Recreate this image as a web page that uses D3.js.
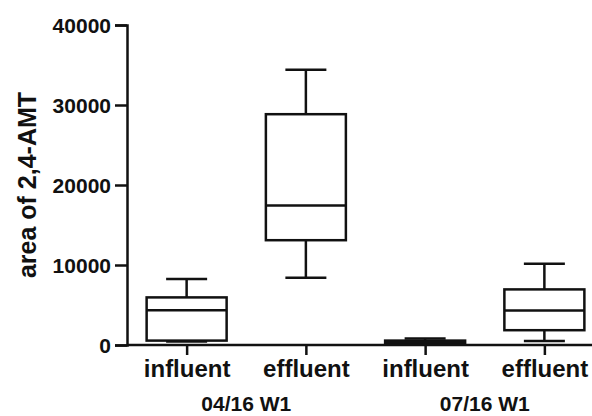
<!DOCTYPE html>
<html>
<head>
<meta charset="utf-8">
<script src="https://cdn.jsdelivr.net/npm/d3@7"></script>
<style>
  body { margin: 0; background: #fff; }
  text { font-family: "Liberation Sans", Arial, sans-serif; font-weight: bold; fill: #111; }
</style>
</head>
<body>
<div id="chart"></div>
<script>
// box data
let boxIds = ['in0416', 'eff0416', 'in0716', 'eff0716'];
let boxNames = ['influent', 'effluent', 'influent', 'effluent'];
let whiskerMin = [450, 8400, 200, 500];
let q1 = [550, 13100, 250, 1850];
let median = [4350, 17450, 400, 4300];
let q3 = [5950, 28850, 550, 6950];
let whiskerMax = [8250, 34400, 800, 10150];
let groupLabels = ['04/16 W1', '07/16 W1'];
let yTicks = [0, 10000, 20000, 30000, 40000];

let svgWidth = 592;
let svgHeight = 416;

let margin = { top: 25, right: 0, bottom: 71, left: 127 };
let height = svgHeight - margin.top - margin.bottom;

let svg = d3.select('#chart')
    .append('svg')
    .attr('width', svgWidth)
    .attr('height', svgHeight);

let chartGroup = svg.append('g')
    .attr('transform', `translate(${margin.left}, ${margin.top})`);

let yScale = d3.scaleLinear()
    .domain([0, 40000])
    .range([height, 0]);

let xScale = d3.scalePoint()
    .domain(boxIds)
    .range([0, 477])
    .padding(0.5);

let boxWidth = 80;
let capWidth = 41;

let data = boxIds.map((id, i) => ({
    id: id,
    min: whiskerMin[i],
    q1: q1[i],
    med: median[i],
    q3: q3[i],
    max: whiskerMax[i]
}));

// boxes
let boxes = chartGroup.selectAll('.box')
    .data(data)
    .enter()
    .append('g')
    .attr('class', 'box')
    .attr('transform', d => `translate(${xScale(d.id)}, 0)`)
    .attr('stroke', '#111')
    .attr('stroke-width', 2.5)
    .attr('fill', 'none');

// whiskers
boxes.append('line')
    .attr('x1', 0).attr('x2', 0)
    .attr('y1', d => yScale(d.max))
    .attr('y2', d => yScale(d.q3));
boxes.append('line')
    .attr('x1', 0).attr('x2', 0)
    .attr('y1', d => yScale(d.q1))
    .attr('y2', d => yScale(d.min));
boxes.append('line')
    .attr('x1', -capWidth / 2).attr('x2', capWidth / 2)
    .attr('y1', d => yScale(d.max))
    .attr('y2', d => yScale(d.max));
boxes.append('line')
    .attr('x1', -capWidth / 2).attr('x2', capWidth / 2)
    .attr('y1', d => yScale(d.min))
    .attr('y2', d => yScale(d.min));

boxes.append('rect')
    .attr('x', -boxWidth / 2)
    .attr('width', boxWidth)
    .attr('y', d => yScale(d.q3))
    .attr('height', d => yScale(d.q1) - yScale(d.q3))
    .attr('fill', '#fff');

boxes.append('line')
    .attr('x1', -boxWidth / 2).attr('x2', boxWidth / 2)
    .attr('y1', d => yScale(d.med))
    .attr('y2', d => yScale(d.med));

// axes
let leftAxis = d3.axisLeft(yScale)
    .tickValues(yTicks)
    .tickSize(12)
    .tickPadding(4)
    .tickFormat(d3.format('d'));

let yAxis = chartGroup.append('g')
    .call(leftAxis);
yAxis.selectAll('path, line')
    .attr('stroke', '#111')
    .attr('stroke-width', 2.5);
yAxis.selectAll('text')
    .style('font-size', '21px')
    .attr('dy', '0.36em');

let bottomAxis = d3.axisBottom(xScale)
    .tickSize(10)
    .tickPadding(5)
    .tickFormat((d, i) => boxNames[i]);

let xAxis = chartGroup.append('g')
    .attr('transform', `translate(0, ${height})`)
    .call(bottomAxis);
xAxis.select('.domain')
    .attr('d', `M0,0H${svgWidth - margin.left}`);
xAxis.selectAll('path, line')
    .attr('stroke', '#111')
    .attr('stroke-width', 2.5);
xAxis.selectAll('text')
    .style('font-size', '24px');

// group labels under each pair
groupLabels.forEach((label, i) => {
    let cx = (xScale(boxIds[i * 2]) + xScale(boxIds[i * 2 + 1])) / 2;
    chartGroup.append('text')
        .attr('x', cx)
        .attr('y', height + 66)
        .attr('text-anchor', 'middle')
        .style('font-size', '21px')
        .text(label);
});

// y label
chartGroup.append('text')
    .attr('transform', 'rotate(-90)')
    .attr('x', 0 - height / 2)
    .attr('y', -91)
    .attr('text-anchor', 'middle')
    .style('font-size', '25px')
    .text('area of 2,4-AMT');
</script>
</body>
</html>
